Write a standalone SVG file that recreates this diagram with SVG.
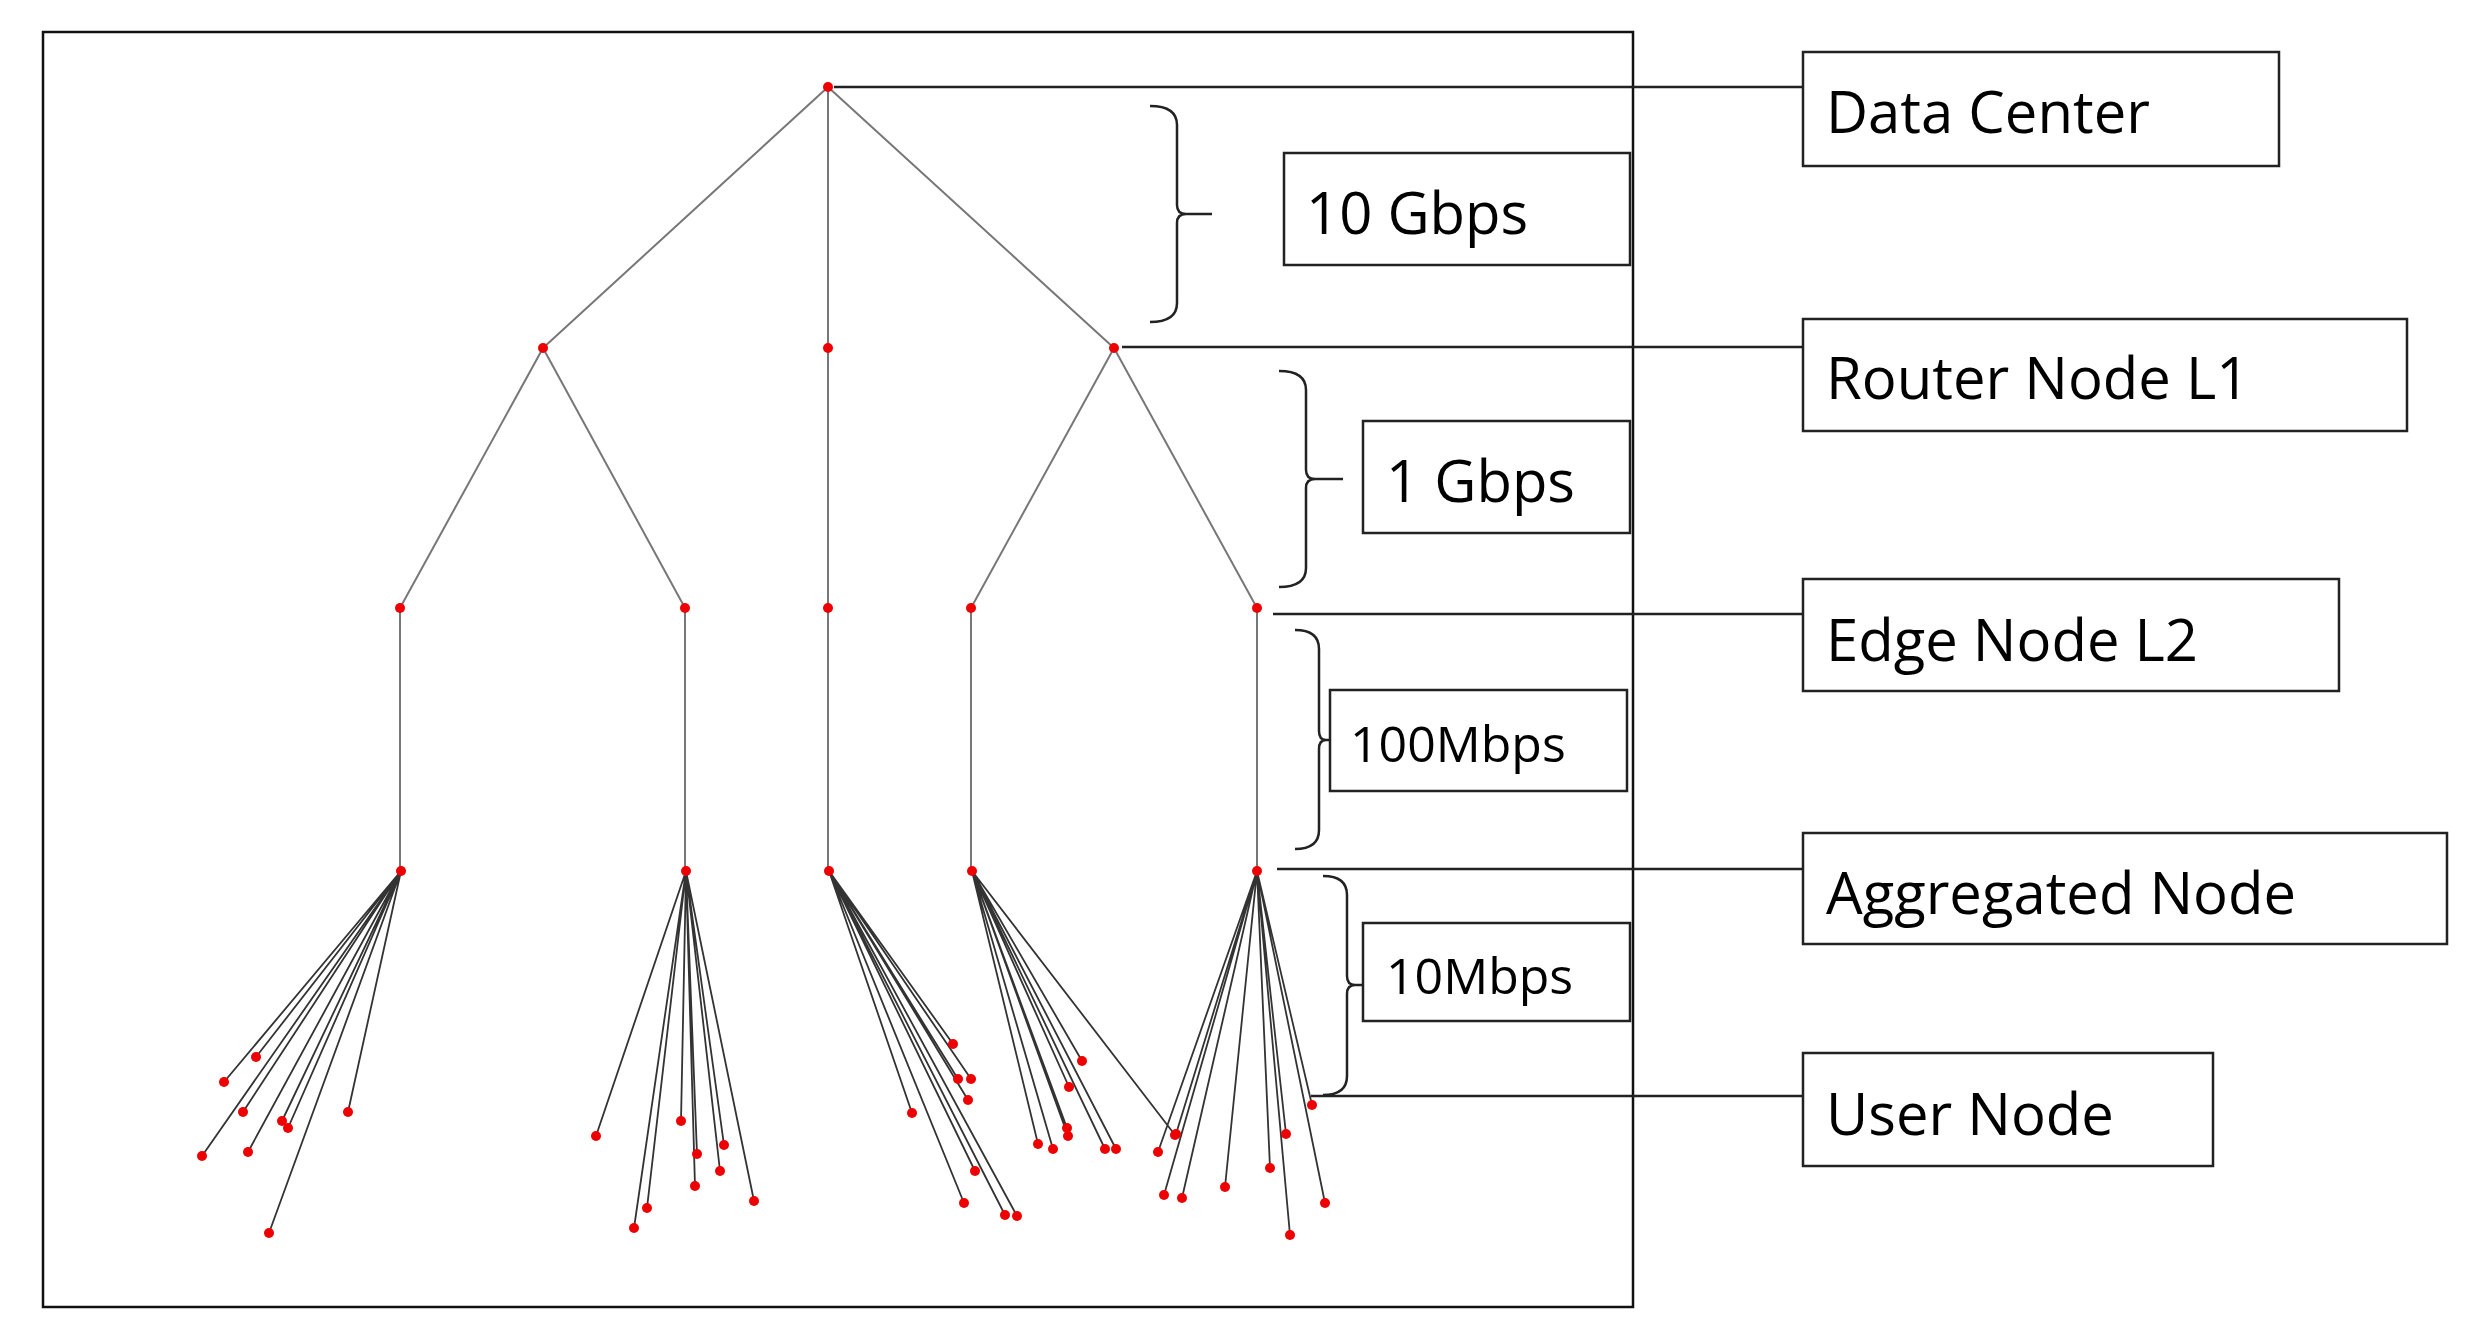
<svg xmlns="http://www.w3.org/2000/svg" width="2491" height="1341" viewBox="0 0 2491 1341">
<style>
.t{stroke:#777;stroke-width:2;fill:none}
.l{stroke:#333;stroke-width:1.8;fill:none}
.k{stroke:#222;stroke-width:2.5;fill:none}
.b{stroke:#222;stroke-width:2.5;fill:none}
.box{fill:#fff;stroke:#222;stroke-width:2.5}
circle{fill:#e00}
text{font-family:"Open Sans","Noto Sans",sans-serif;fill:#000}
.big{font-size:58px}
.mid{font-size:50px}
</style>
<rect x="0" y="0" width="2491" height="1341" fill="#fff"/>
<rect x="43" y="32" width="1590" height="1275" fill="none" stroke="#111" stroke-width="2.5"/>
<g id="connectors">
<path class="t" d="M828,87L543,348M828,87V348M828,87L1114,348M543,348L400,608M543,348L685,608M828,348V608M1114,348L971,608M1114,348L1257,608M400,608V871M685,608V871M828,608V871M971,608V871M1257,608V871"/>
<path class="l" d="M401,871L256,1057M401,871L224,1082M401,871L243,1112M401,871L282,1121M401,871L288,1128M401,871L348,1112M401,871L202,1156M401,871L248,1152M401,871L269,1233
M686,871L596,1136M686,871L681,1121M686,871L697,1154M686,871L724,1145M686,871L720,1171M686,871L695,1186M686,871L754,1201M686,871L647,1208M686,871L634,1228
M829,871L953,1044M829,871L958,1079M829,871L971,1079M829,871L968,1100M829,871L912,1113M829,871L975,1171M829,871L964,1203M829,871L1005,1215M829,871L1017,1216
M972,871L1082,1061M972,871L1069,1087M972,871L1067,1128M972,871L1068,1136M972,871L1038,1144M972,871L1053,1149M972,871L1105,1149M972,871L1116,1149M972,871L1175,1135
M1257,871L1158,1152M1257,871L1164,1195M1257,871L1182,1198M1257,871L1225,1187M1257,871L1270,1168M1257,871L1286,1134M1257,871L1312,1105M1257,871L1325,1203M1257,871L1290,1235M1257,871L1176,1134"/>
<path class="k" d="M834,87H1803M1122,347H1803M1273,614H1803M1277,869H1803M1311,1096H1803"/>
<path class="b" d="M1150,106Q1177,106 1177,125V205Q1177,214 1186,214Q1177,214 1177,223V303Q1177,322 1150,322M1186,214H1212"/>
<path class="b" d="M1279,371Q1306,371 1306,390V470Q1306,479 1315,479Q1306,479 1306,488V568Q1306,587 1279,587M1315,479H1343"/>
<path class="b" d="M1295,630Q1319,630 1319,649V731Q1319,740 1326,740Q1319,740 1319,749V830Q1319,849 1295,849M1326,740H1332"/>
<path class="b" d="M1323,876Q1347,876 1347,895V976Q1347,985 1355,985Q1347,985 1347,994V1076Q1347,1095 1323,1095M1355,985H1363"/>
</g>
<g id="nodes">
<circle cx="828" cy="87" r="5"/>
<circle cx="543" cy="348" r="5"/><circle cx="828" cy="348" r="5"/><circle cx="1114" cy="348" r="5"/>
<circle cx="400" cy="608" r="5"/><circle cx="685" cy="608" r="5"/><circle cx="828" cy="608" r="5"/><circle cx="971" cy="608" r="5"/><circle cx="1257" cy="608" r="5"/>
<circle cx="401" cy="871" r="5"/><circle cx="686" cy="871" r="5"/><circle cx="829" cy="871" r="5"/><circle cx="972" cy="871" r="5"/><circle cx="1257" cy="871" r="5"/>
<circle cx="256" cy="1057" r="5"/><circle cx="224" cy="1082" r="5"/><circle cx="243" cy="1112" r="5"/><circle cx="282" cy="1121" r="5"/><circle cx="288" cy="1128" r="5"/><circle cx="348" cy="1112" r="5"/><circle cx="202" cy="1156" r="5"/><circle cx="248" cy="1152" r="5"/><circle cx="269" cy="1233" r="5"/>
<circle cx="596" cy="1136" r="5"/><circle cx="681" cy="1121" r="5"/><circle cx="697" cy="1154" r="5"/><circle cx="724" cy="1145" r="5"/><circle cx="720" cy="1171" r="5"/><circle cx="695" cy="1186" r="5"/><circle cx="754" cy="1201" r="5"/><circle cx="647" cy="1208" r="5"/><circle cx="634" cy="1228" r="5"/>
<circle cx="953" cy="1044" r="5"/><circle cx="958" cy="1079" r="5"/><circle cx="971" cy="1079" r="5"/><circle cx="968" cy="1100" r="5"/><circle cx="912" cy="1113" r="5"/><circle cx="975" cy="1171" r="5"/><circle cx="964" cy="1203" r="5"/><circle cx="1005" cy="1215" r="5"/><circle cx="1017" cy="1216" r="5"/>
<circle cx="1082" cy="1061" r="5"/><circle cx="1069" cy="1087" r="5"/><circle cx="1067" cy="1128" r="5"/><circle cx="1068" cy="1136" r="5"/><circle cx="1038" cy="1144" r="5"/><circle cx="1053" cy="1149" r="5"/><circle cx="1105" cy="1149" r="5"/><circle cx="1116" cy="1149" r="5"/><circle cx="1175" cy="1135" r="5"/>
<circle cx="1158" cy="1152" r="5"/><circle cx="1164" cy="1195" r="5"/><circle cx="1182" cy="1198" r="5"/><circle cx="1225" cy="1187" r="5"/><circle cx="1270" cy="1168" r="5"/><circle cx="1286" cy="1134" r="5"/><circle cx="1312" cy="1105" r="5"/><circle cx="1325" cy="1203" r="5"/><circle cx="1290" cy="1235" r="5"/><circle cx="1176" cy="1134" r="5"/>
</g>
<g id="rate-10g"><rect class="box" x="1284" y="153" width="346" height="112"/><text class="big" x="1306" y="234">10 Gbps</text></g>
<g id="rate-1g"><rect class="box" x="1363" y="421" width="267" height="112"/><text class="big" x="1386" y="502">1 Gbps</text></g>
<g id="rate-100m"><rect class="box" x="1330" y="690" width="297" height="101"/><text class="mid" x="1350" y="762">100Mbps</text></g>
<g id="rate-10m"><rect class="box" x="1363" y="923" width="267" height="98"/><text class="mid" x="1386" y="994">10Mbps</text></g>
<g id="label-dc"><rect class="box" x="1803" y="52" width="476" height="114"/><text class="big" x="1826" y="133">Data Center</text></g>
<g id="label-router"><rect class="box" x="1803" y="319" width="604" height="112"/><text class="big" x="1826" y="399">Router Node L1</text></g>
<g id="label-edge"><rect class="box" x="1803" y="579" width="536" height="112"/><text class="big" x="1826" y="661">Edge Node L2</text></g>
<g id="label-agg"><rect class="box" x="1803" y="833" width="644" height="111"/><text class="big" x="1826" y="914">Aggregated Node</text></g>
<g id="label-user"><rect class="box" x="1803" y="1053" width="410" height="113"/><text class="big" x="1826" y="1135">User Node</text></g>
</svg>
